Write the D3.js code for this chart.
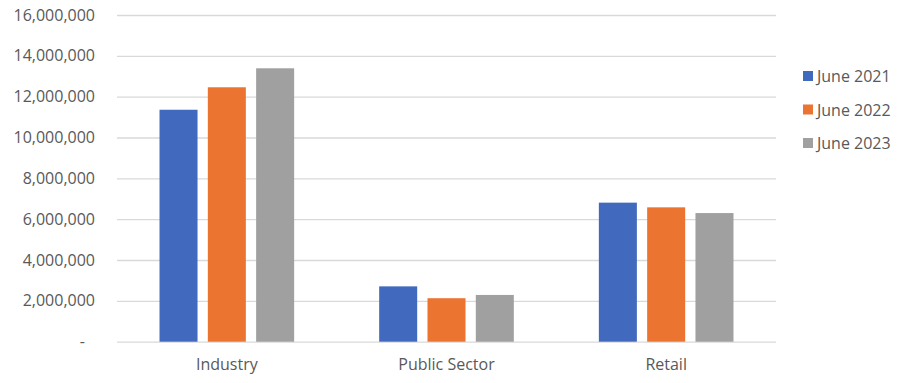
<!DOCTYPE html>
<html lang="en">
<head>
	<meta charset="utf-8">
	<title>Employees by sector</title>
	<script src="https://d3js.org/d3.v7.min.js"></script>
	<style>
		body { margin: 0; background: #fff; }
		text { font-family: 'Open Sans', sans-serif; fill: #595959; }
	</style>
</head>
<body>
	<script>
		// chart values
		var categories = ["Industry", "Public Sector", "Retail"];
		var seriesNames = ["June 2021", "June 2022", "June 2023"];
		var june2021 = [11360000, 2710000, 6810000];
		var june2022 = [12460000, 2130000, 6580000];
		var june2023 = [13390000, 2290000, 6300000];
		var yTicks = [0, 2000000, 4000000, 6000000, 8000000, 10000000, 12000000, 14000000, 16000000];

		var allSeries = [june2021, june2022, june2023];
		var colors = ["#4169BD", "#EB7430", "#A0A0A0"];

		var w = 914, h = 383;
		// plot box (note: "top" is taken by window.top, so use plotTop)
		var plotLeft = 117, plotRight = 776, plotTop = 15, plotBottom = 341.7;

		var svg = d3.select("body").append("svg")
			.attr("width", w)
			.attr("height", h);

		var y = d3.scaleLinear()
			.domain([0, 16000000])
			.range([plotBottom, plotTop]);

		var x0 = d3.scaleBand()
			.domain(categories)
			.range([plotLeft, plotRight])
			.padding(0);

		var x1 = d3.scaleBand()
			.domain(seriesNames)
			.range([0, x0.bandwidth()])
			.paddingInner(0.213)
			.paddingOuter(0.88);

		// gridlines + y labels
		var yAxis = d3.axisLeft(y)
			.tickValues(yTicks)
			.tickSize(-(plotRight - plotLeft))
			.tickPadding(22)
			.tickFormat(function(d) { return d === 0 ? "-" : d3.format(",")(d); });

		var gy = svg.append("g")
			.attr("transform", "translate(" + plotLeft + ",0)")
			.call(yAxis);
		gy.select(".domain").remove();
		gy.selectAll(".tick line").attr("stroke", "#d9d9d9").attr("stroke-width", 1.3);
		gy.selectAll(".tick text")
			.style("font-size", "16px")
			.attr("fill", "#595959")
			.attr("dx", function(d) { return d === 0 ? -10 : 0; });

		// bars
		var groups = svg.selectAll("g.cat")
			.data(categories)
			.enter().append("g")
			.attr("class", "cat")
			.attr("transform", function(d) { return "translate(" + x0(d) + ",0)"; });

		groups.selectAll("rect")
			.data(function(d, i) {
				return seriesNames.map(function(s, j) {
					return { name: s, value: allSeries[j][i], idx: j };
				});
			})
			.enter().append("rect")
			.attr("x", function(d) { return x1(d.name); })
			.attr("y", function(d) { return y(d.value); })
			.attr("width", x1.bandwidth())
			.attr("height", function(d) { return y(0) - y(d.value); })
			.attr("fill", function(d) { return colors[d.idx]; });

		// category labels
		var xAxis = d3.axisBottom(x0).tickSize(0).tickPadding(17);
		var gx = svg.append("g")
			.attr("transform", "translate(0," + plotBottom + ")")
			.call(xAxis);
		gx.select(".domain").remove();
		gx.selectAll(".tick text")
			.style("font-size", "16px")
			.attr("fill", "#595959");

		// legend
		var legend = svg.selectAll("g.legend")
			.data(seriesNames)
			.enter().append("g")
			.attr("class", "legend")
			.attr("transform", function(d, i) { return "translate(803," + (71 + i * 33.5) + ")"; });

		legend.append("rect")
			.attr("width", 10)
			.attr("height", 10)
			.attr("fill", function(d, i) { return colors[i]; });

		legend.append("text")
			.attr("x", 14)
			.attr("y", 11)
			.style("font-size", "16px")
			.text(function(d) { return d; });
	</script>
</body>
</html>
